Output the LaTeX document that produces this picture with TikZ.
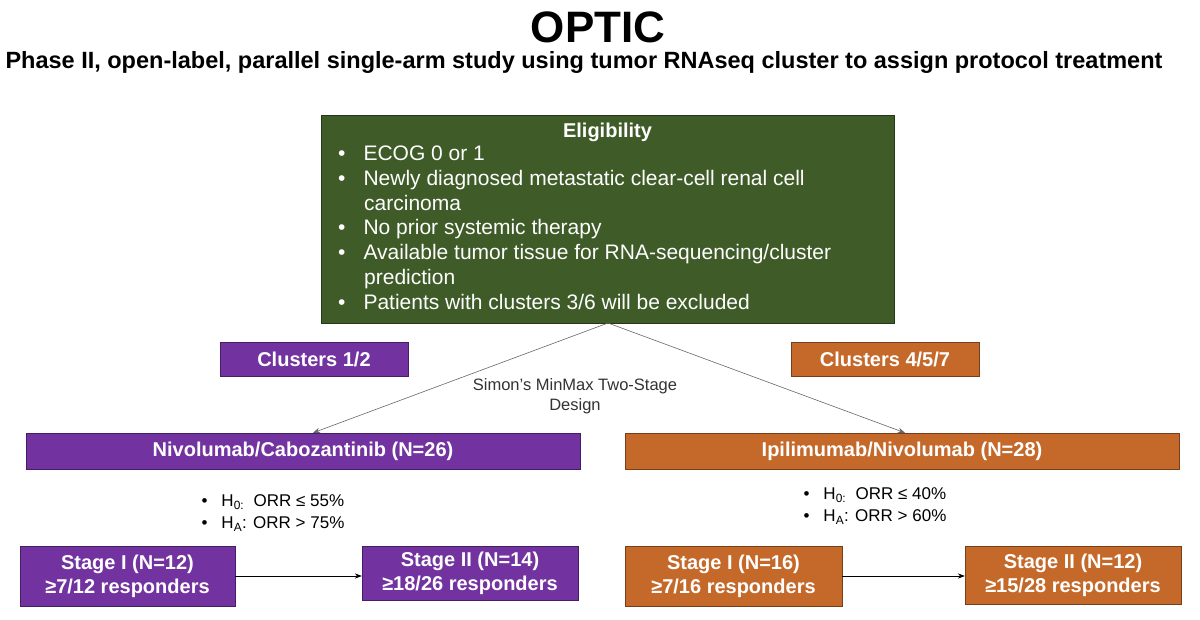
\documentclass[tikz,border=0pt]{standalone}
\usepackage{fontspec}
\setmainfont{Liberation Sans}
\usetikzlibrary{arrows.meta}
\definecolor{grn}{HTML}{3E5B28}
\definecolor{pur}{HTML}{7232A0}
\definecolor{org}{HTML}{C4692A}
\tikzset{
 box/.style={draw=#1!60!black,fill=#1,text=white,font=\bfseries\fontsize{20}{24}\selectfont,inner sep=0pt,align=center},
 conn/.style={draw=gray!80!black,line width=0.6pt,-{Stealth[length=7pt]}},
 blk/.style={draw=black,line width=0.6pt,-{Stealth[length=7pt]}},
 bul/.style={font=\fontsize{17}{22}\selectfont,align=left,anchor=north west}
}
\begin{document}
\begin{tikzpicture}[x=1pt,y=-1pt]
\useasboundingbox (0,0) rectangle (1200,619);
\node (title) at (598,27) {\bfseries\fontsize{44}{46}\selectfont OPTIC};
\node (sub) at (584,62) {\bfseries\fontsize{23.5}{26}\selectfont Phase II, open-label, parallel single-arm study using tumor RNAseq cluster to assign protocol treatment};
\node[box=grn,minimum width=573pt,minimum height=208pt] (elig) at (607.5,219) {};
\node[text=white,font=\bfseries\fontsize{20}{24}\selectfont] (eh) at (607.5,132) {Eligibility};
\node[text=white,anchor=north west,font=\fontsize{21}{24.7}\selectfont,align=left,inner sep=0pt] (el) at (338,146) {%
\textbullet\hspace{18pt}ECOG 0 or 1\\
\textbullet\hspace{18pt}Newly diagnosed metastatic clear-cell renal cell\\
\hspace{26pt}carcinoma\\
\textbullet\hspace{18pt}No prior systemic therapy\\
\textbullet\hspace{18pt}Available tumor tissue for RNA-sequencing/cluster\\
\hspace{26pt}prediction\\
\textbullet\hspace{18pt}Patients with clusters 3/6 will be excluded};
\node[box=pur,minimum width=188pt,minimum height=34pt] (c12) at (314,359) {Clusters 1/2};
\node[box=org,minimum width=188pt,minimum height=34pt] (c457) at (885,359) {Clusters 4/5/7};
\node[box=pur,minimum width=554pt,minimum height=36pt] (nc) at (303,451) {Nivolumab/Cabozantinib (N=26)};
\node[box=org,minimum width=554pt,minimum height=36pt] (in) at (902,451) {Ipilimumab/Nivolumab (N=28)};
\coordinate (top) at (608,323);
\draw[conn] (top) -- (nc.north -| 313,0);
\draw[conn] (top) -- (in.north -| 905,0);
\node[font=\fontsize{16.5}{20}\selectfont,text=black!80,align=center,fill=white,inner sep=1pt] (sim) at (575,396) {Simon’s MinMax Two-Stage\\Design};
\node[bul] (lb) at (198,491) {\textbullet\hspace{14pt}H\textsubscript{0:}\ \ ORR ≤ 55\%\\\textbullet\hspace{14pt}H\textsubscript{A}: ORR > 75\%};
\node[bul] (rb) at (800,484) {\textbullet\hspace{14pt}H\textsubscript{0:}\ \ ORR ≤ 40\%\\\textbullet\hspace{14pt}H\textsubscript{A}: ORR > 60\%};
\node[box=pur,minimum width=215pt,minimum height=60pt] (s1) at (127.5,576) {Stage I (N=12)\\≥7/12 responders};
\node[box=pur,minimum width=216pt,minimum height=54pt] (s2) at (470,573) {Stage II (N=14)\\≥18/26 responders};
\node[box=org,minimum width=217pt,minimum height=60pt] (s3) at (733.5,576) {Stage I (N=16)\\≥7/16 responders};
\node[box=org,minimum width=216pt,minimum height=58pt] (s4) at (1073,575) {Stage II (N=12)\\≥15/28 responders};
\draw[blk] (s1.east |- 0,576) -- (s2.west |- 0,576);
\draw[blk] (s3.east |- 0,576) -- (s4.west |- 0,576);
\end{tikzpicture}
\end{document}
